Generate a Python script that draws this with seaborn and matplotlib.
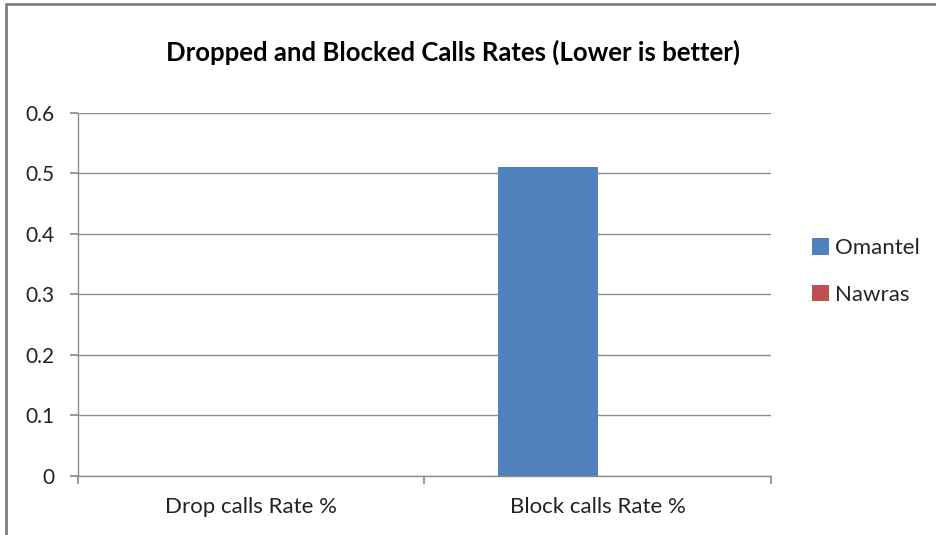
import matplotlib
matplotlib.use("Agg")
import matplotlib.pyplot as plt
from matplotlib.lines import Line2D
import seaborn as sns
import pandas as pd

categories = ["Drop calls Rate %", "Block calls Rate %"]
series = ["Omantel", "Nawras"]
omantel = [0.0, 0.51]
nawras = [0.0, 0.0]
yticks = [0, 0.1, 0.2, 0.3, 0.4, 0.5, 0.6]
title = "Dropped and Blocked Calls Rates (Lower is better)"
colors = ["#4F81BD", "#C0504D"]

df = pd.DataFrame({
    "Category": categories * 2,
    "Operator": [series[0]] * 2 + [series[1]] * 2,
    "Value": omantel + nawras,
})

sns.set_theme(style="white")
plt.rcParams["font.family"] = ["Lato", "DejaVu Sans"]

fig = plt.figure(figsize=(9.37, 5.35), dpi=100)
ax = fig.add_axes([0.0832, 0.1103, 0.7396, 0.6785])

sns.barplot(data=df, x="Category", y="Value", hue="Operator", order=categories,
            hue_order=series, palette=colors, width=0.578, ax=ax,
            saturation=1, edgecolor="none", errorbar=None)

ax.set_xlim(-0.5, 1.5)
ax.set_ylim(0, 0.6)
ax.set_yticks(yticks)
ax.set_yticklabels(["0" if v == 0 else f"{v:.1f}" for v in yticks], fontsize=15, color="#222222")
ax.yaxis.grid(True, color="#8c8c8c", linewidth=1)
ax.set_axisbelow(True)

ax.set_xticks([-0.5, 0.5, 1.5])
ax.set_xticklabels(["", "", ""])
ax.set_xticks([0, 1], minor=True)
ax.set_xticklabels(categories, minor=True, fontsize=16, color="#222222")
ax.tick_params(axis="x", which="major", length=6, color="#8c8c8c", direction="out", bottom=True)
ax.tick_params(axis="x", which="minor", length=0, pad=15, bottom=True)
ax.tick_params(axis="y", length=6, color="#8c8c8c", direction="out", left=True, pad=11)

for s in ["top", "right"]:
    ax.spines[s].set_visible(False)
for s in ["left", "bottom"]:
    ax.spines[s].set_color("#8c8c8c")
    ax.spines[s].set_linewidth(1)

ax.set_xlabel("")
ax.set_ylabel("")

sns.move_legend(ax, loc="center left", bbox_to_anchor=(0.8666, 0.4925),
                bbox_transform=fig.transFigure, frameon=False, title=None,
                fontsize=16, handlelength=0.75, handleheight=0.75,
                labelspacing=1.2, handletextpad=0.3, borderaxespad=0, borderpad=0)

fig.text(453 / 937, 1 - 52 / 535, title, ha="center", va="center",
         fontsize=18.5, fontweight="bold", color="black")

fig.add_artist(Line2D([6.5 / 937, 6.5 / 937], [0, 1 - 4 / 535], transform=fig.transFigure,
                      color="#7f7f7f", linewidth=2))
fig.add_artist(Line2D([6.5 / 937, 1], [1 - 4 / 535, 1 - 4 / 535], transform=fig.transFigure,
                      color="#7f7f7f", linewidth=2))

fig.savefig("out.png", dpi=100, facecolor="white")
